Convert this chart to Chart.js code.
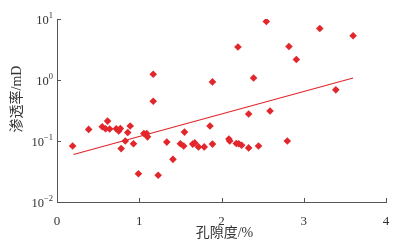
<!DOCTYPE html>
<html>
<head>
<meta charset="utf-8">
<script src="https://cdn.jsdelivr.net/npm/chart.js@4"></script>
<style>
  html, body { margin: 0; padding: 0; background: #fff; }
  #wrap { width: 403px; height: 246px; }
</style>
</head>
<body>
<div id="wrap"><canvas id="c"></canvas></div>
<script>
// porosity (%) and permeability (mD)
const porosity = [0.19, 0.385, 0.55, 0.615, 0.59, 0.64, 0.72, 0.77, 0.75, 0.89, 0.86, 0.78, 0.83, 0.93, 0.99,
    1.056, 1.10, 1.09, 1.17, 1.17, 1.23, 1.335, 1.41, 1.55, 1.50, 1.54, 1.65, 1.675, 1.72, 1.79, 1.86, 1.89, 1.89,
    2.09, 2.10, 2.18, 2.21, 2.245, 2.33, 2.45, 2.80, 2.20, 2.545, 3.195, 3.60, 2.82, 2.91, 2.39, 3.39, 2.59, 2.33];
const permeability = [0.083, 0.155, 0.171, 0.212, 0.159, 0.157, 0.159, 0.16, 0.146, 0.176, 0.138, 0.075, 0.10, 0.090, 0.029,
    0.133, 0.117, 0.133, 1.24, 0.448, 0.0275, 0.096, 0.050, 0.14, 0.090, 0.083, 0.089, 0.093, 0.080, 0.080, 0.176, 0.089, 0.93,
    0.108, 0.10, 0.091, 0.090, 0.085, 0.077, 0.083, 0.10, 3.47, 9.1, 7.0, 5.3, 3.54, 2.17, 1.08, 0.69, 0.31, 0.277];

// exponential trend line end points
const trendX = [0.2, 3.6];
const trendY = [0.06, 1.08];

const xTicks = [0, 1, 2, 3, 4];
const yTicks = [0.01, 0.1, 1, 10];
const yExponents = ['-2', '-1', '0', '1'];

const xTitle = '孔隙度/%';
const yTitle = '渗透率/mD';

const red = '#e1262c';
const axisColor = '#555';
const textColor = '#333';
const serif = "'Liberation Serif', 'Noto Sans CJK SC', serif";

const points = porosity.map((x, i) => ({ x: x, y: permeability[i] }));
const trend = trendX.map((x, i) => ({ x: x, y: trendY[i] }));

// inward tick marks, power-of-ten labels and axis titles
const decorations = {
    id: 'decorations',
    afterDraw(chart) {
        const ctx = chart.ctx;
        const xs = chart.scales.x;
        const ys = chart.scales.y;
        const area = chart.chartArea;
        ctx.save();
        ctx.strokeStyle = axisColor;
        ctx.lineWidth = 1;
        xTicks.forEach(v => {
            if (v === 0) return;
            const px = Math.round(xs.getPixelForValue(v)) + 0.5;
            ctx.beginPath();
            ctx.moveTo(px, area.bottom);
            ctx.lineTo(px, area.bottom - 4);
            ctx.stroke();
        });
        yTicks.forEach((v, i) => {
            const py = Math.round(ys.getPixelForValue(v)) + 0.5;
            ctx.beginPath();
            ctx.moveTo(area.left, py);
            ctx.lineTo(area.left + 4, py);
            ctx.stroke();

            // "10" with superscript exponent
            const exp = yExponents[i];
            ctx.fillStyle = textColor;
            ctx.textBaseline = 'middle';
            ctx.font = '8.5px ' + serif;
            const expText = exp.replace('-', '\u2212');
            const ew = ctx.measureText(expText).width;
            const right = area.left - 4;
            ctx.textAlign = 'left';
            ctx.fillText(expText, right - ew, py - 4);
            ctx.font = '12.5px ' + serif;
            ctx.textAlign = 'right';
            ctx.fillText('10', right - ew, py + 1);
        });

        ctx.fillStyle = textColor;
        ctx.font = '14px ' + serif;
        ctx.textAlign = 'center';
        ctx.textBaseline = 'middle';
        ctx.fillText(xTitle, (area.left + area.right) / 2 + 3, 233);

        ctx.translate(17, 99);
        ctx.rotate(-Math.PI / 2);
        ctx.fillText(yTitle, 0, 0);
        ctx.restore();
    }
};

new Chart(document.getElementById('c'), {
    type: 'scatter',
    data: {
        datasets: [{
            data: points,
            pointStyle: 'rectRot',
            pointRadius: 3.8,
            pointHoverRadius: 3.8,
            backgroundColor: red,
            borderColor: red,
            borderWidth: 0
        }, {
            type: 'line',
            data: trend,
            borderColor: red,
            borderWidth: 1.2,
            pointRadius: 0,
            fill: false
        }]
    },
    options: {
        responsive: true,
        maintainAspectRatio: false,
        animation: false,
        layout: { padding: { top: 19, right: 17, left: 0, bottom: 0 } },
        plugins: { legend: { display: false }, tooltip: { enabled: false } },
        scales: {
            x: {
                type: 'linear',
                min: 0,
                max: 4,
                afterBuildTicks: s => { s.ticks = xTicks.map(v => ({ value: v })); },
                afterFit: s => { s.height = 44; },
                grid: { display: false },
                border: { color: axisColor, width: 1 },
                ticks: {
                    padding: 4,
                    color: textColor,
                    font: { family: serif, size: 13 }
                }
            },
            y: {
                type: 'logarithmic',
                min: 0.01,
                max: 10,
                afterBuildTicks: s => { s.ticks = yTicks.map(v => ({ value: v })); },
                afterFit: s => { s.width = 57; },
                grid: { display: false },
                border: { color: axisColor, width: 1 },
                ticks: { display: false }
            }
        }
    },
    plugins: [decorations]
});
</script>
</body>
</html>
